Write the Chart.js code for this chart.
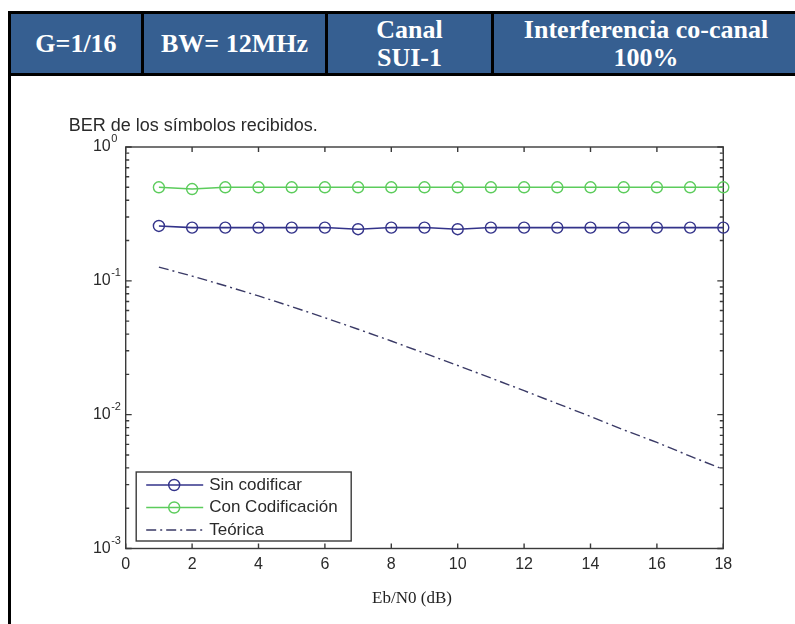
<!DOCTYPE html>
<html>
<head>
<meta charset="utf-8">
<script src="https://cdn.jsdelivr.net/npm/chart.js@4.4.1/dist/chart.umd.min.js"></script>
<style>
  html, body { margin: 0; padding: 0; background: #fff; }
  body { width: 795px; height: 624px; position: relative; overflow: hidden; }
  #head {
    position: absolute; left: 8px; top: 11px; width: 830px; height: 59px;
    border: 3px solid #000; background: #365f91; display: flex;
  }
  .cell {
    color: #fff; font: bold 26px/28px "Liberation Serif", "Times New Roman", serif;
    text-align: center; display: flex; align-items: center; justify-content: center;
    border-right: 3px solid #000; box-sizing: border-box; height: 100%;
  }
  #rule { position: absolute; left: 8px; top: 11px; width: 3px; height: 613px; background: #000; }
  #wrap { position: absolute; left: 0; top: 80px; width: 795px; height: 544px; }
  #xcap {
    position: absolute; top: 588px; left: 312px; width: 200px; text-align: center;
    font: 17px/20px "Liberation Serif", "Times New Roman", serif; color: #222;
  }
</style>
</head>
<body>
<div id="head">
  <div class="cell" style="width:133px">G=1/16</div>
  <div class="cell" style="width:184px">BW= 12MHz</div>
  <div class="cell" style="width:166px">Canal<br>SUI-1</div>
  <div class="cell" style="width:310px;border-right:none;justify-content:flex-start;padding-left:0"><span style="width:304px;display:block">Interferencia co-canal<br>100%</span></div>
</div>
<div id="rule"></div>
<div id="wrap"><canvas id="c" width="795" height="544"></canvas></div>
<div id="xcap">Eb/N0 (dB)</div>

<script>
// Eb/N0 values in dB
const ebn0 = [1, 2, 3, 4, 5, 6, 7, 8, 9, 10, 11, 12, 13, 14, 15, 16, 17, 18];

// BER of the received symbols, uncoded
const sinCodificar = [0.257, 0.25, 0.25, 0.25, 0.25, 0.25, 0.243, 0.25, 0.25, 0.243,
                      0.25, 0.25, 0.25, 0.25, 0.25, 0.25, 0.25, 0.25];

// BER with channel coding
const conCodificacion = [0.5, 0.485, 0.5, 0.5, 0.5, 0.5, 0.5, 0.5, 0.5, 0.5,
                         0.5, 0.5, 0.5, 0.5, 0.5, 0.5, 0.5, 0.5];

// theoretical BER curve
const teorica = [0.1267, 0.1085, 0.0919, 0.0771, 0.0642, 0.0530, 0.0435, 0.0355, 0.0288,
                 0.0233, 0.0188, 0.0151, 0.0121, 0.0097, 0.0077, 0.0062, 0.0049, 0.0039];

const xTicks = [0, 2, 4, 6, 8, 10, 12, 14, 16, 18];
const yDecades = [0, -1, -2, -3];
const seriesNames = ['Sin codificar', 'Con Codificación', 'Teórica'];
const titleText = 'BER de los símbolos recibidos.';

const SANS = '"Liberation Sans", Arial, sans-serif';
const AXIS_COL = '#3a3a3a';
const TEXT_COL = '#2a2a2a';

const pts = vals => vals.map((v, i) => ({ x: ebn0[i], y: v }));

// box, inward ticks, exponent tick labels, title and the legend inside the axes
const matlabAxes = {
  id: 'matlabAxes',
  beforeDatasetsDraw(chart) {
    const { ctx, chartArea: a, scales: { x, y } } = chart;
    ctx.save();
    ctx.strokeStyle = AXIS_COL;
    ctx.lineWidth = 1.4;
    ctx.strokeRect(a.left, a.top, a.right - a.left, a.bottom - a.top);
    ctx.beginPath();
    xTicks.forEach(t => {
      const px = x.getPixelForValue(t);
      ctx.moveTo(px, a.bottom); ctx.lineTo(px, a.bottom - 5);
      ctx.moveTo(px, a.top); ctx.lineTo(px, a.top + 5);
    });
    yDecades.forEach(k => {
      const base = Math.pow(10, k);
      const py = y.getPixelForValue(base);
      ctx.moveTo(a.left, py); ctx.lineTo(a.left + 6, py);
      ctx.moveTo(a.right, py); ctx.lineTo(a.right - 6, py);
      if (k > -3) {
        for (let m = 2; m <= 9; m++) {
          const my = y.getPixelForValue(base * m / 10);
          ctx.moveTo(a.left, my); ctx.lineTo(a.left + 3.5, my);
          ctx.moveTo(a.right, my); ctx.lineTo(a.right - 3.5, my);
        }
      }
    });
    ctx.stroke();

    // y tick labels as 10 with a raised exponent
    ctx.fillStyle = TEXT_COL;
    yDecades.forEach(k => {
      const py = y.getPixelForValue(Math.pow(10, k));
      ctx.font = '16px ' + SANS;
      ctx.textAlign = 'right';
      ctx.textBaseline = 'middle';
      ctx.fillText('10', a.left - 15, py);
      ctx.font = '11px ' + SANS;
      ctx.textAlign = 'left';
      ctx.fillText(String(k), a.left - 14.5, py - 8);
    });

    // axes title
    ctx.font = '18px ' + SANS;
    ctx.textAlign = 'left';
    ctx.textBaseline = 'alphabetic';
    ctx.fillText(titleText, a.left - 57, a.top - 16);
    ctx.restore();
  },
  afterDraw(chart) {
    const { ctx, chartArea: a } = chart;
    const w = 215, h = 69;
    const lx = a.left + 10.5, ly = a.bottom - 7.5 - h;
    ctx.save();
    ctx.fillStyle = '#fff';
    ctx.fillRect(lx, ly, w, h);
    ctx.strokeStyle = AXIS_COL;
    ctx.lineWidth = 1.4;
    ctx.strokeRect(lx, ly, w, h);
    chart.data.datasets.forEach((ds, i) => {
      const ry = ly + 13 + i * 22.5;
      ctx.strokeStyle = ds.borderColor;
      ctx.lineWidth = ds.borderWidth;
      ctx.setLineDash(ds.borderDash || []);
      ctx.beginPath();
      ctx.moveTo(lx + 10, ry); ctx.lineTo(lx + 67, ry);
      ctx.stroke();
      ctx.setLineDash([]);
      if (ds.pointRadius > 0) {
        ctx.lineWidth = ds.pointBorderWidth;
        ctx.beginPath();
        ctx.arc(lx + 38, ry, ds.pointRadius, 0, Math.PI * 2);
        ctx.stroke();
      }
      ctx.fillStyle = TEXT_COL;
      ctx.font = '17px ' + SANS;
      ctx.textAlign = 'left';
      ctx.textBaseline = 'middle';
      ctx.fillText(ds.label, lx + 73, ry);
    });
    ctx.restore();
  }
};

const markerSeries = (label, vals, color) => ({
  label, data: pts(vals), borderColor: color, borderWidth: 1.6,
  pointRadius: 5.5, pointBorderWidth: 1.4, pointBorderColor: color,
  pointBackgroundColor: 'rgba(0,0,0,0)', pointHoverRadius: 5.5, tension: 0, clip: false
});

new Chart(document.getElementById('c'), {
  type: 'line',
  data: {
    datasets: [
      markerSeries(seriesNames[0], sinCodificar, '#33338a'),
      markerSeries(seriesNames[1], conCodificacion, '#5ccc5c'),
      {
        label: seriesNames[2], data: pts(teorica), borderColor: '#3a3a66', borderWidth: 1.4,
        borderDash: [10, 4, 2, 4], pointRadius: 0, tension: 0, clip: false
      }
    ]
  },
  options: {
    responsive: false,
    animation: false,
    events: [],
    layout: { padding: { left: 125.7, right: 71.7, top: 67, bottom: 0 } },
    plugins: { legend: { display: false }, tooltip: { enabled: false }, title: { display: false } },
    scales: {
      x: {
        type: 'linear', min: 0, max: 18,
        afterBuildTicks: s => { s.ticks = xTicks.map(v => ({ value: v })); },
        afterFit: s => { s.height = 75.5; },
        grid: { display: false, drawTicks: false },
        border: { display: false },
        ticks: { color: TEXT_COL, font: { family: SANS, size: 16 }, padding: 6, maxRotation: 0 }
      },
      y: {
        type: 'logarithmic', min: 0.001, max: 1, display: false
      }
    }
  },
  plugins: [matlabAxes]
});
</script>
</body>
</html>
